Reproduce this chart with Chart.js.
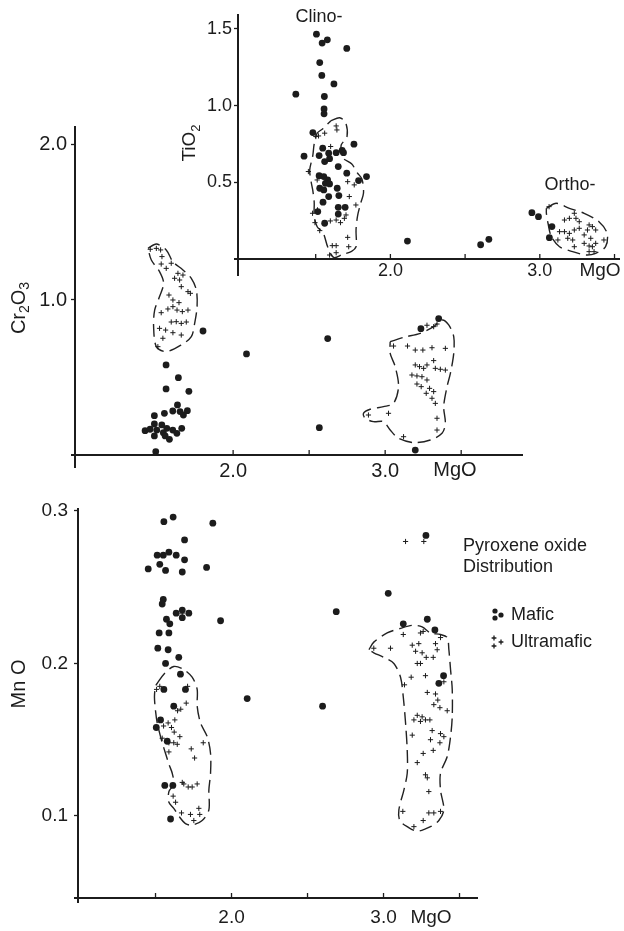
<!DOCTYPE html>
<html lang="en">
<head>
<meta charset="UTF-8">
<title>Pyroxene oxide distribution</title>
<script src="https://cdn.jsdelivr.net/npm/chart.js@4.4.1/dist/chart.umd.min.js"></script>
<style>
  html, body { margin: 0; padding: 0; background: #fff; }
  #wrap { position: relative; width: 624px; height: 931px; }
  #wrap canvas { position: absolute; left: 0; top: 0; }
</style>
</head>
<body>
<div id="wrap">
  <canvas id="crChart" width="624" height="931"></canvas>
  <canvas id="mnChart" width="624" height="931"></canvas>
  <canvas id="tiChart" width="624" height="931"></canvas>
</div>
<script>
// ---- tick values ----
const mgTicks = [1.5, 2.0, 2.5, 3.0, 3.5];
const tiTicks = [0.5, 1.0, 1.5];
const crTicks = [1.0, 2.0];
const mnTicks = [0.1, 0.2, 0.3];

// ---- TiO2 vs MgO (inset, top right) ----
const tiMafic = [[1.505,1.465],[1.543,1.407],[1.578,1.428],[1.708,1.372],[1.527,1.280],[1.541,1.196],[1.622,1.141],[1.367,1.074],[1.558,1.059],[1.556,0.978],[1.556,0.946],[1.481,0.824],[1.756,0.748],[1.422,0.670],[1.523,0.674],[1.547,0.722],[1.587,0.689],[1.637,0.693],[1.677,0.707],[1.686,0.693],[1.560,0.635],[1.593,0.654],[1.651,0.602],[1.708,0.559],[1.523,0.543],[1.554,0.537],[1.580,0.515],[1.565,0.493],[1.527,0.461],[1.554,0.450],[1.593,0.489],[1.644,0.461],[1.587,0.407],[1.655,0.413],[1.787,0.511],[1.840,0.537],[1.549,0.370],[1.651,0.337],[1.697,0.337],[1.514,0.309],[1.651,0.293],[1.560,0.233],[2.114,0.117],[2.604,0.093],[2.659,0.128],[2.947,0.302],[2.991,0.276],[3.081,0.211],[3.064,0.139]];
const tiUltra = [[1.637,0.867],[1.642,0.841],[1.560,0.820],[1.519,0.802],[1.501,0.798],[1.600,0.733],[1.451,0.570],[1.510,0.515],[1.714,0.504],[1.758,0.483],[1.725,0.407],[1.769,0.352],[1.495,0.237],[1.527,0.185],[1.598,0.248],[1.637,0.254],[1.666,0.237],[1.692,0.265],[1.703,0.287],[1.611,0.087],[1.637,0.087],[1.714,0.141],[1.721,0.080],[1.593,0.026],[1.637,0.041],[1.479,0.298],[1.512,0.320],
  [3.062,0.341],[3.165,0.254],[3.198,0.265],[3.231,0.298],[3.242,0.265],[3.264,0.243],[3.132,0.178],[3.165,0.178],[3.198,0.167],[3.231,0.189],[3.264,0.200],[3.319,0.189],[3.352,0.211],[3.374,0.189],[3.330,0.222],[3.121,0.124],[3.187,0.135],[3.220,0.124],[3.297,0.157],[3.341,0.135],[3.429,0.124],[3.231,0.080],[3.297,0.102],[3.330,0.085],[3.352,0.080],[3.374,0.102],[3.330,0.048],[3.363,0.048]];
const tiClinoField = [[1.60,0.90],[1.66,0.92],[1.70,0.89],[1.71,0.80],[1.67,0.74],[1.68,0.66],[1.74,0.62],[1.78,0.56],[1.81,0.52],[1.82,0.43],[1.80,0.36],[1.78,0.28],[1.77,0.19],[1.77,0.08],[1.74,0.05],[1.68,0.03],[1.62,0.01],[1.58,0.08],[1.55,0.17],[1.51,0.21],[1.49,0.28],[1.49,0.37],[1.48,0.45],[1.47,0.50],[1.46,0.58],[1.48,0.67],[1.49,0.75],[1.51,0.82],[1.55,0.85]];
const tiOrthoField = [[3.044,0.330],[3.110,0.363],[3.198,0.330],[3.297,0.298],[3.396,0.243],[3.451,0.167],[3.440,0.080],[3.374,0.037],[3.308,0.026],[3.220,0.048],[3.132,0.080],[3.077,0.146],[3.055,0.233],[3.044,0.298]];

// ---- Cr2O3 vs MgO (middle) ----
const crMafic = [[1.802,0.800],[2.088,0.652],[2.622,0.751],[3.235,0.815],[3.352,0.880],[2.567,0.176],[3.198,0.032],
  [1.559,0.581],[1.640,0.499],[1.559,0.426],[1.709,0.411],[1.634,0.323],[1.603,0.284],[1.548,0.269],[1.482,0.254],[1.651,0.280],[1.699,0.286],[1.673,0.258],[1.482,0.200],[1.531,0.194],[1.564,0.172],[1.603,0.161],[1.662,0.172],[1.421,0.157],[1.454,0.166],[1.498,0.161],[1.541,0.144],[1.630,0.140],[1.482,0.123],[1.553,0.123],[1.581,0.101],[1.491,0.021]];
const crUltra = [[1.455,1.327],[1.495,1.333],[1.523,1.323],[1.532,1.280],[1.527,1.232],[1.560,1.204],[1.593,1.237],[1.637,1.172],[1.670,1.161],[1.648,1.129],[1.615,1.140],[1.659,1.086],[1.703,1.054],[1.719,1.043],[1.578,1.032],[1.604,1.000],[1.644,0.983],[1.604,0.957],[1.571,0.942],[1.631,0.935],[1.666,0.925],[1.703,0.935],[1.527,0.918],[1.593,0.858],[1.626,0.860],[1.659,0.849],[1.692,0.858],[1.516,0.817],[1.556,0.806],[1.604,0.789],[1.659,0.774],[1.538,0.753],[1.505,0.699],
  [3.055,0.703],[3.147,0.703],[3.198,0.677],[3.248,0.677],[3.308,0.692],[3.396,0.688],[3.198,0.581],[3.226,0.570],[3.253,0.559],[3.275,0.581],[3.319,0.609],[3.330,0.559],[3.363,0.553],[3.396,0.548],[3.176,0.516],[3.209,0.510],[3.242,0.505],[3.275,0.484],[3.209,0.458],[3.237,0.441],[3.292,0.430],[3.319,0.409],[3.270,0.398],[3.308,0.366],[3.330,0.333],[3.341,0.237],[3.341,0.161],[3.022,0.269],[2.890,0.258],[3.121,0.118],[3.275,0.837],[3.319,0.828],[3.341,0.845]];
const crUpperField = [[1.440,1.333],[1.495,1.361],[1.560,1.323],[1.604,1.247],[1.670,1.194],[1.725,1.140],[1.758,1.065],[1.763,0.957],[1.747,0.849],[1.725,0.763],[1.659,0.710],[1.560,0.667],[1.495,0.699],[1.477,0.828],[1.484,0.935],[1.516,1.022],[1.543,1.108],[1.516,1.183],[1.462,1.258]];
const crRightField = [[3.033,0.731],[3.121,0.759],[3.231,0.785],[3.319,0.828],[3.374,0.871],[3.418,0.839],[3.451,0.763],[3.451,0.656],[3.429,0.527],[3.407,0.441],[3.385,0.312],[3.396,0.204],[3.374,0.140],[3.297,0.097],[3.187,0.080],[3.088,0.108],[3.033,0.161],[2.989,0.215],[2.923,0.215],[2.868,0.237],[2.857,0.269],[2.901,0.295],[2.989,0.312],[3.055,0.333],[3.088,0.441],[3.066,0.570],[3.033,0.656]];

// ---- MnO vs MgO (bottom) ----
const mnMafic = [[1.616,0.296],[1.555,0.293],[1.877,0.292],[1.691,0.281],[1.511,0.271],[1.551,0.271],[1.588,0.273],[1.636,0.271],[1.528,0.265],[1.691,0.268],[1.452,0.262],[1.566,0.261],[1.676,0.260],[1.836,0.263],[1.551,0.242],[1.544,0.239],[1.636,0.233],[1.676,0.235],[1.719,0.233],[1.676,0.230],[1.572,0.229],[1.594,0.226],[1.928,0.228],[1.524,0.220],[1.588,0.220],[1.515,0.210],[1.583,0.209],[1.653,0.204],[1.566,0.200],[1.664,0.193],[1.555,0.183],[1.697,0.183],[1.620,0.172],[1.533,0.163],[1.505,0.158],[1.577,0.149],[1.561,0.120],[1.614,0.120],[1.599,0.098],
  [2.103,0.177],[2.599,0.172],[2.689,0.234],[3.031,0.246],[3.279,0.284],[3.130,0.226],[3.288,0.229],[3.338,0.222],[3.364,0.187],[3.395,0.192]];
const mnUltra = [[1.528,0.185],[1.507,0.183],[1.697,0.183],[1.711,0.185],[1.702,0.174],[1.666,0.170],[1.645,0.169],[1.627,0.163],[1.583,0.161],[1.605,0.158],[1.553,0.159],[1.623,0.155],[1.660,0.152],[1.544,0.151],[1.588,0.148],[1.620,0.148],[1.643,0.147],[1.814,0.148],[1.735,0.144],[1.757,0.138],[1.588,0.142],[1.676,0.122],[1.686,0.121],[1.715,0.119],[1.741,0.119],[1.774,0.121],[1.616,0.113],[1.632,0.109],[1.671,0.102],[1.730,0.101],[1.791,0.101],[1.785,0.105],[1.752,0.097],[1.676,0.233],
  [2.936,0.210],[3.046,0.210],[3.130,0.219],[3.243,0.220],[3.261,0.221],[3.375,0.217],[3.189,0.212],[3.232,0.213],[3.342,0.213],[3.353,0.209],[3.211,0.208],[3.254,0.207],[3.281,0.204],[3.327,0.204],[3.222,0.200],[3.243,0.200],[3.397,0.188],[3.276,0.192],[3.182,0.191],[3.138,0.186],[3.288,0.181],[3.342,0.180],[3.357,0.176],[3.331,0.173],[3.371,0.171],[3.419,0.169],[3.222,0.166],[3.254,0.165],[3.200,0.163],[3.243,0.162],[3.276,0.163],[3.305,0.163],[3.189,0.153],[3.320,0.156],[3.375,0.154],[3.397,0.152],[3.309,0.150],[3.371,0.148],[3.261,0.141],[3.327,0.143],[3.222,0.135],[3.276,0.127],[3.288,0.125],[3.298,0.116],[3.127,0.103],[3.298,0.102],[3.331,0.102],[3.375,0.103],[3.261,0.097],[3.200,0.093],[3.145,0.280],[3.265,0.280]];
const mnLeftField = [[1.511,0.187],[1.555,0.193],[1.620,0.198],[1.686,0.196],[1.741,0.191],[1.774,0.183],[1.774,0.172],[1.796,0.161],[1.840,0.152],[1.862,0.141],[1.862,0.128],[1.851,0.117],[1.851,0.104],[1.807,0.097],[1.741,0.094],[1.697,0.095],[1.653,0.100],[1.620,0.105],[1.588,0.109],[1.588,0.116],[1.620,0.121],[1.610,0.128],[1.588,0.134],[1.566,0.141],[1.544,0.148],[1.528,0.154],[1.511,0.161],[1.500,0.169],[1.493,0.178],[1.500,0.185]];
const mnRightField = [[2.904,0.209],[2.936,0.214],[3.024,0.220],[3.112,0.223],[3.189,0.225],[3.254,0.224],[3.309,0.220],[3.375,0.219],[3.419,0.217],[3.430,0.209],[3.441,0.196],[3.452,0.183],[3.452,0.165],[3.441,0.152],[3.419,0.139],[3.375,0.128],[3.375,0.117],[3.397,0.104],[3.364,0.097],[3.309,0.093],[3.222,0.090],[3.156,0.093],[3.107,0.097],[3.101,0.104],[3.134,0.117],[3.156,0.128],[3.156,0.143],[3.145,0.161],[3.130,0.178],[3.112,0.191],[3.068,0.200],[3.002,0.204],[2.936,0.207]];

const FONT = "'Liberation Sans', Arial, sans-serif";
const INK = '#1c1c1c';
const W = 624, H = 931;

const pts = arr => arr.map(p => ({ x: p[0], y: p[1] }));
const maficSet = arr => ({ label: 'Mafic', data: pts(arr), pointStyle: 'circle', pointRadius: 3.4, backgroundColor: INK, borderWidth: 0, showLine: false });
const ultraSet = arr => ({ label: 'Ultramafic', data: pts(arr), pointStyle: 'cross', pointRadius: 2.6, borderColor: INK, borderWidth: 1, showLine: false });
const fieldSet = arr => ({ label: 'field', data: pts(arr.concat([arr[0]])), showLine: true, pointRadius: 0, borderColor: '#222', borderWidth: 1.4, borderDash: [13, 6], tension: 0.3, fill: false });

// text with subscripts: parts = [[text, isSub], ...]
function rich(ctx, parts, x, y, size, rot, align) {
  ctx.save();
  ctx.translate(x, y);
  if (rot) ctx.rotate(-Math.PI / 2);
  const fontOf = sub => (sub ? Math.round(size * 0.7) : size) + 'px ' + FONT;
  let total = 0;
  parts.forEach(p => { ctx.font = fontOf(p[1]); total += ctx.measureText(p[0]).width; });
  let cx = align === 'left' ? 0 : -total / 2;
  ctx.textAlign = 'left';
  ctx.textBaseline = 'middle';
  ctx.fillStyle = INK;
  parts.forEach(p => {
    ctx.font = fontOf(p[1]);
    ctx.fillText(p[0], cx, p[1] ? size * 0.32 : 0);
    cx += ctx.measureText(p[0]).width;
  });
  ctx.restore();
}

// axis overshoot, inward MgO ticks, titles and notes
function deco(cfg) {
  return {
    id: 'deco',
    afterDraw(chart) {
      const { ctx, chartArea: a, scales: { x } } = chart;
      ctx.save();
      ctx.strokeStyle = INK;
      ctx.lineWidth = 2;
      ctx.beginPath();
      ctx.moveTo(a.left, a.bottom);
      ctx.lineTo(a.left, a.bottom + cfg.drop);
      ctx.moveTo(a.left - 4, a.bottom);
      ctx.lineTo(a.left, a.bottom);
      ctx.stroke();
      ctx.lineWidth = 1.3;
      x.ticks.forEach(t => {
        const px = x.getPixelForValue(t.value);
        ctx.beginPath();
        ctx.moveTo(px, a.bottom);
        ctx.lineTo(px, a.bottom - 5);
        ctx.stroke();
      });
      cfg.notes.forEach(n => rich(ctx, n.parts, n.x, n.y, n.size, n.rot, n.align));
      (cfg.marks || []).forEach(m => {
        const st = m.style === 'circle'
          ? { pointStyle: 'circle', radius: 2.6, borderWidth: 0 }
          : { pointStyle: 'cross', radius: 2.4, borderWidth: 1 };
        ctx.fillStyle = INK;
        ctx.strokeStyle = INK;
        Chart.helpers.drawPoint(ctx, st, m.x, m.y);
      });
      ctx.restore();
    }
  };
}

function plot(id, sets, box, xr, yr, yTicks, f, cfg) {
  const YW = 50, XH = 40;
  return new Chart(document.getElementById(id), {
    type: 'scatter',
    data: { datasets: sets },
    options: {
      responsive: false,
      animation: false,
      events: [],
      layout: { padding: { left: box.left - YW, top: box.top, right: W - box.right, bottom: H - box.bottom - XH } },
      plugins: { legend: { display: false }, tooltip: { enabled: false } },
      scales: {
        x: {
          type: 'linear', min: xr[0], max: xr[1],
          afterBuildTicks: s => { s.ticks = mgTicks.map(v => ({ value: v })); },
          afterFit: s => { s.height = XH; },
          grid: { display: false, drawTicks: false },
          border: { display: true, color: INK, width: 2 },
          ticks: {
            autoSkip: false, maxRotation: 0, padding: f.xPad, color: INK,
            font: { family: FONT, size: f.size },
            callback: v => (Math.abs(v - 2) < 1e-6 ? '2.0' : Math.abs(v - 3) < 1e-6 ? '3.0' : '')
          }
        },
        y: {
          type: 'linear', min: yr[0], max: yr[1],
          afterBuildTicks: s => { s.ticks = yTicks.map(v => ({ value: v })); },
          afterFit: s => { s.width = YW; },
          grid: { display: true, drawOnChartArea: false, drawTicks: true, tickLength: 4, tickColor: INK, tickWidth: 1.3 },
          border: { display: true, color: INK, width: 2 },
          ticks: {
            autoSkip: false, padding: f.yPad, color: INK,
            font: { family: FONT, size: f.size },
            callback: v => v.toFixed(1)
          }
        }
      }
    },
    plugins: [deco(cfg)]
  });
}

plot('crChart',
  [maficSet(crMafic), ultraSet(crUltra), fieldSet(crUpperField), fieldSet(crRightField)],
  { left: 75, top: 127, right: 522, bottom: 455 }, [0.96, 3.9], [0, 2.116], crTicks,
  { size: 20, xPad: 4, yPad: 4 },
  { drop: 13, notes: [
    { parts: [['MgO', false]], x: 455, y: 470, size: 20 },
    { parts: [['Cr', false], ['2', true], ['O', false], ['3', true]], x: 19, y: 308, size: 20, rot: true }
  ] });

plot('mnChart',
  [maficSet(mnMafic), ultraSet(mnUltra), fieldSet(mnLeftField), fieldSet(mnRightField)],
  { left: 78, top: 509, right: 477, bottom: 898 }, [0.99, 3.615], [0.0462, 0.3013], mnTicks,
  { size: 19, xPad: 8, yPad: 6 },
  { drop: 5, notes: [
    { parts: [['MgO', false]], x: 431, y: 918, size: 19 },
    { parts: [['Mn O', false]], x: 19, y: 684, size: 20, rot: true },
    { parts: [['Pyroxene oxide', false]], x: 463, y: 546, size: 18, align: 'left' },
    { parts: [['Distribution', false]], x: 463, y: 567, size: 18, align: 'left' },
    { parts: [['Mafic', false]], x: 511, y: 615, size: 18, align: 'left' },
    { parts: [['Ultramafic', false]], x: 511, y: 642, size: 18, align: 'left' }
  ], marks: [
    { style: 'circle', x: 495, y: 611 }, { style: 'circle', x: 495, y: 618 }, { style: 'circle', x: 501, y: 615 },
    { style: 'cross', x: 494, y: 638 }, { style: 'cross', x: 494, y: 646 }, { style: 'cross', x: 501, y: 642 }
  ] });

plot('tiChart',
  [maficSet(tiMafic), ultraSet(tiUltra), fieldSet(tiClinoField), fieldSet(tiOrthoField)],
  { left: 238, top: 15, right: 623, bottom: 259 }, [0.98, 3.53], [0, 1.59], tiTicks,
  { size: 18, xPad: 1, yPad: 2 },
  { drop: 17, notes: [
    { parts: [['MgO', false]], x: 600, y: 271, size: 19 },
    { parts: [['Ti', false], ['O', false], ['2', true]], x: 190, y: 143, size: 19, rot: true },
    { parts: [['Clino-', false]], x: 319, y: 17, size: 18 },
    { parts: [['Ortho-', false]], x: 570, y: 185, size: 18 }
  ] });
</script>
</body>
</html>
